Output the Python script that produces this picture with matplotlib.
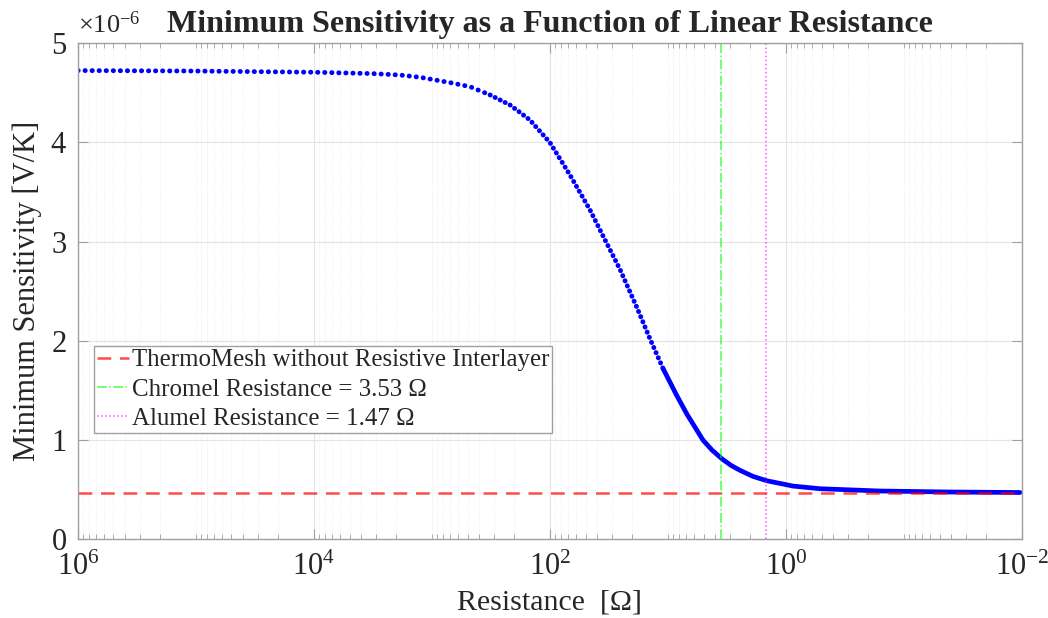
import numpy as np
import matplotlib
matplotlib.use('Agg')
import matplotlib.pyplot as plt
from matplotlib.ticker import FixedLocator, LogLocator, LogFormatterSciNotation, ScalarFormatter, NullFormatter

plt.rcParams['font.family'] = ['Liberation Serif', 'DejaVu Serif']
plt.rcParams['mathtext.fontset'] = 'custom'
plt.rcParams['mathtext.rm'] = 'Liberation Serif'
plt.rcParams['mathtext.it'] = 'Liberation Serif:italic'

# values
resistance = [1e6, 1e5, 1e4, 3160, 1870, 1260, 700, 476, 322, 218, 148, 100,
              67.7, 45.8, 35.6, 25.5, 18.4, 14.2, 11.0, 8.43, 6.90, 5.05, 4.24,
              3.48, 2.92, 2.45, 1.91, 1.45, 0.873, 0.515, 0.160, 0.0407, 0.0104]
sensitivity = [4.725, 4.72, 4.708, 4.694, 4.680, 4.657, 4.603, 4.562, 4.479, 4.378, 4.227, 3.998,
               3.672, 3.32, 3.06, 2.72, 2.34, 2.02, 1.72, 1.45, 1.26, 1.00, 0.90,
               0.81, 0.745, 0.695, 0.635, 0.59, 0.537, 0.510, 0.487, 0.477, 0.472]  # x 1e-6 V/K
baseline = 0.462e-6
chromel_r = 3.53
alumel_r = 1.47

labels = ['ThermoMesh without Resistive Interlayer',
          'Chromel Resistance = %.2f \u03a9' % chromel_r,
          'Alumel Resistance = %.2f \u03a9' % alumel_r]

r = np.array(resistance)
s = np.array(sensitivity) * 1e-6

fig = plt.figure(figsize=(10.48, 6.18), dpi=100)
ax = fig.add_subplot(111)
fig.subplots_adjust(left=0.0744, right=0.9752, bottom=0.1273, top=0.930)

txt = '#262626'
edge = '#a0a0a0'

# curve: sparse dots on the plateau, denser dots in the middle, solid where they overlap
m1 = r >= 322
m2 = (r <= 322) & (r >= 11.0)
m3 = r <= 11.0
ax.plot(r[m1], s[m1], color='blue', lw=3.5, dashes=(0.05, 1.4), dash_capstyle='round')
ax.plot(r[m2], s[m2], color='blue', lw=3.5, dashes=(0.05, 1.1), dash_capstyle='round')
ax.plot(r[m3], s[m3], color='blue', lw=3.4, solid_capstyle='round', solid_joinstyle='round')

h1 = ax.axhline(baseline, color='red', alpha=0.7, lw=1.8, dashes=(5.5, 3.5))
h2 = ax.axvline(chromel_r, color=(0, 1, 0), alpha=0.7, lw=1.1, ls='-.')
h3 = ax.axvline(alumel_r, color=(1, 0, 1), alpha=0.7, lw=1.1, ls=':')

ax.set_xscale('log')
ax.set_xlim(1e6, 1e-2)
ax.set_ylim(0, 5e-6)

ax.xaxis.set_major_locator(FixedLocator([1e6, 1e4, 1e2, 1e0, 1e-2]))
ax.xaxis.set_major_formatter(LogFormatterSciNotation())
ax.xaxis.set_minor_locator(LogLocator(base=10, subs=np.arange(1, 10), numticks=100))
ax.xaxis.set_minor_formatter(NullFormatter())
ax.set_yticks(np.arange(0, 6) * 1e-6)
fmt = ScalarFormatter(useMathText=True)
fmt.set_powerlimits((0, 0))
ax.yaxis.set_major_formatter(fmt)
ax.yaxis.get_offset_text().set_visible(False)
fig.text(78 / 1048, 1 - 33 / 618, r'$\times10^{\mathregular{-6}}$', fontsize=19,
         color=txt, ha='left', va='baseline')

ax.tick_params(which='both', direction='in', top=True, right=True, colors=edge,
               labelcolor=txt, labelsize=22)
ax.tick_params(which='major', length=7, width=0.8)
ax.tick_params(which='minor', length=3.5, width=0.6)
ax.tick_params(axis='x', pad=10)
ax.tick_params(axis='y', pad=8)

ax.grid(which='major', color='#e4e4e4', lw=0.8)
ax.grid(which='minor', axis='x', color='#e8e8e8', lw=0.6, ls=':')
ax.set_axisbelow(True)
for sp in ax.spines.values():
    sp.set_color(edge)
    sp.set_linewidth(1.0)

ax.set_title('Minimum Sensitivity as a Function of Linear Resistance',
             fontsize=23, fontweight='bold', color=txt, pad=8)
ax.set_xlabel('Resistance  [\u03a9]', fontsize=21.5, color=txt, labelpad=5)
ax.set_ylabel('Minimum Sensitivity [V/K]', fontsize=22, color=txt, labelpad=6)

leg = ax.legend([h1, h2, h3], labels, loc='upper left', bbox_to_anchor=(0.017, 0.39),
                borderaxespad=0, fontsize=17.9, handlelength=1.3, handletextpad=0.1,
                borderpad=0.12, labelspacing=0.28, fancybox=False, framealpha=1)
leg.get_frame().set_edgecolor(edge)
leg.get_frame().set_linewidth(1.0)
for t in leg.get_texts():
    t.set_color(txt)

fig.savefig('out.png', dpi=100)
